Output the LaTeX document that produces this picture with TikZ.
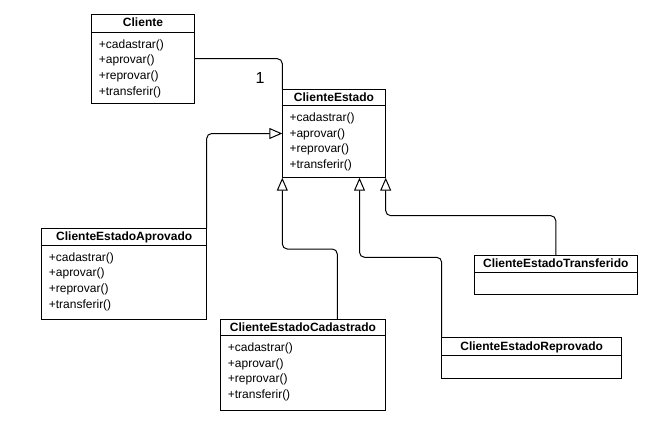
\documentclass[tikz,border=0pt]{standalone}
\usepackage{fontspec}
\setmainfont{Liberation Sans}
\usetikzlibrary{arrows.meta}
\tikzset{
  umlbox/.style={draw, line width=1pt, inner sep=0pt, outer sep=0pt, anchor=north west},
  umltitle/.style={font=\bfseries\fontsize{12}{14}\selectfont, anchor=base, inner sep=0pt},
  umlmethod/.style={font=\fontsize{12}{14}\selectfont, anchor=base west, inner sep=0pt},
  conn/.style={line width=1pt, rounded corners=5pt},
  inherit/.style={conn, -{Triangle[length=13pt, width=11pt, fill=white, line width=1pt]}},
}
% name, x, y, w, h, header height, title, methods
\newcommand\umlclass[8]{%
  \node[umlbox, minimum width=#4pt, minimum height=#5pt] (#1) at (#2,#3) {};
  \draw[line width=1pt] ([yshift=-#6pt]#1.north west) -- ([yshift=-#6pt]#1.north east);
  \node[umltitle] (#1-t) at ([yshift={-#6pt/2-3.8pt}]#1.north) {#7};
  \foreach \m [count=\i] in {#8} {
    \node[umlmethod] (#1-m\i) at ([xshift=7pt, yshift={-#6pt-16pt-15.6pt*(\i-1)}]#1.north west) {\m};
  }
}
\begin{document}
\begin{tikzpicture}[x=1pt, y=-1pt]
\useasboundingbox (0,0) rectangle (661,426);
\fill[white] (0,0) rectangle (661,426);

\umlclass{cliente}{91.7}{14}{102.6}{89.3}{18.3}{Cliente}{+cadastrar(),+aprovar(),+reprovar(),+transferir()}
\umlclass{estado}{282.3}{89.3}{103.4}{88.4}{16.4}{ClienteEstado}{+cadastrar(),+aprovar(),+reprovar(),+transferir()}
\umlclass{aprovado}{41.7}{228.3}{165}{91}{17}{ClienteEstadoAprovado}{+cadastrar(),+aprovar(),+reprovar(),+transferir()}
\umlclass{cadastrado}{220.7}{319.3}{164.6}{90.7}{16.4}{ClienteEstadoCadastrado}{+cadastrar(),+aprovar(),+reprovar(),+transferir()}
\umlclass{reprovado}{441.7}{337.7}{180}{40.6}{17.3}{ClienteEstadoReprovado}{}
\umlclass{transferido}{474.3}{255.7}{163}{38.6}{16.6}{ClienteEstadoTransferido}{}

\draw[conn] (cliente.east) -| (estado.north west);
\node[font=\fontsize{16}{18}\selectfont, inner sep=0pt] (mult) at (260,78.3) {1};

\draw[inherit] (aprovado.north east) |- (estado.west);
\draw[inherit] ([xshift=34.3pt]cadastrado.north) -- ++(0,-70.3) -| (estado.south west);
\draw[inherit] (reprovado.north west) -- ++(0,-80.4) -| ([xshift=-26.2pt]estado.south east);
\draw[inherit] (transferido.north) -- ++(0,-40) -| (estado.south east);
\end{tikzpicture}
\end{document}
